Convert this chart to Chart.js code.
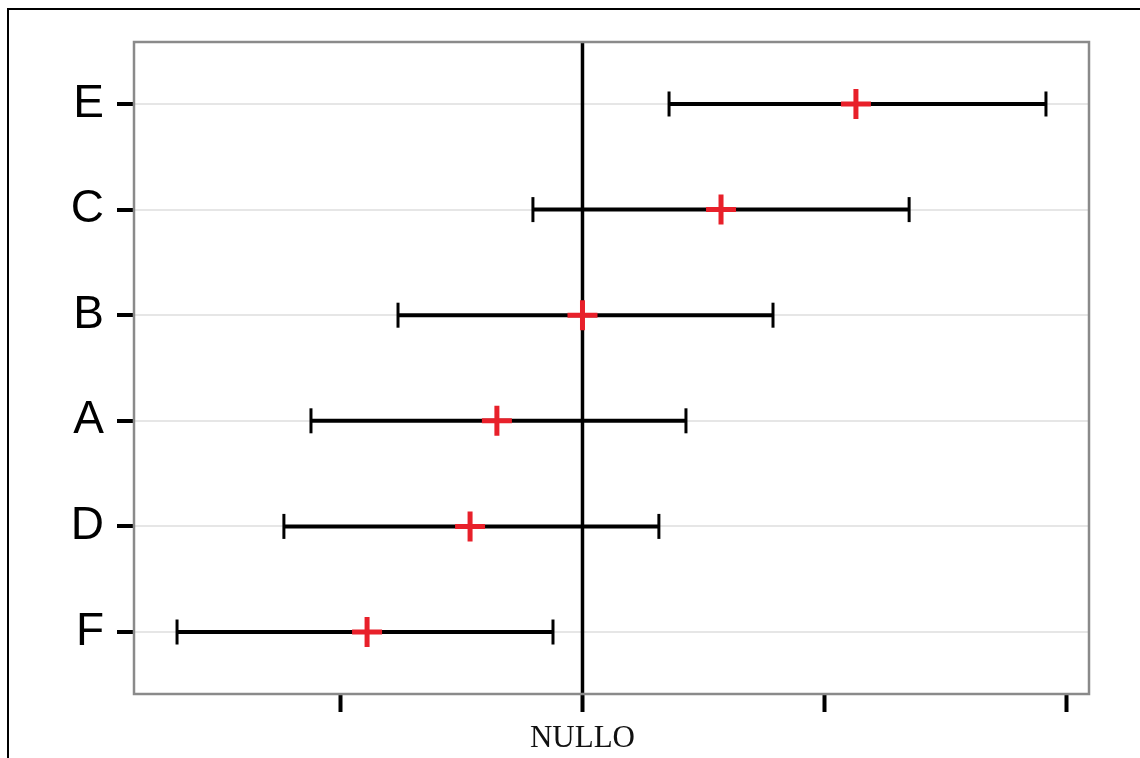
<!DOCTYPE html>
<html>
<head>
  <meta charset="utf-8">
  <title>Forest plot</title>
  <style>
    body { margin: 0; background: #ffffff; }
    canvas { display: block; }
  </style>
  <script src="https://cdn.jsdelivr.net/npm/chart.js@4.4.1/dist/chart.umd.min.js"></script>
</head>
<body>
  <canvas id="graph" width="1140" height="758"></canvas>
  <script>
    // data (top to bottom)
    const categories = ['E', 'C', 'B', 'A', 'D', 'F'];
    const estimates = [1.131, 0.573, 0.00, -0.354, -0.465, -0.891];
    const lower = [0.358, -0.205, -0.763, -1.123, -1.235, -1.677];
    const upper = [1.917, 1.351, 0.788, 0.428, 0.316, -0.122];
    const xTicks = [-1, 0, 1, 2];
    const xTickLabels = ['', 'NULLO', '', ''];

    function yPos(i) { return categories.length - i; }

    var datasets = [];
    for (var i = 0; i < categories.length; i++) {
      datasets.push({
        data: [{x: lower[i], y: yPos(i)}, {x: upper[i], y: yPos(i)}],
        showLine: true,
        borderColor: '#000000',
        borderWidth: 4,
        pointStyle: 'line',
        rotation: 90,
        pointRadius: 12.5,
        pointBorderWidth: 3,
        pointBorderColor: '#000000',
        order: 2
      });
    }
    datasets.push({
      data: estimates.map(function (v, i) { return {x: v, y: yPos(i)}; }),
      showLine: false,
      pointStyle: 'cross',
      pointRadius: 15,
      pointBorderWidth: 5,
      pointBorderColor: '#e8202a',
      order: 1
    });

    var framePlugin = {
      id: 'frame',
      beforeDraw: function (chart) {
        var ctx = chart.ctx;
        ctx.save();
        ctx.fillStyle = '#ffffff';
        ctx.fillRect(0, 0, chart.width, chart.height);
        ctx.strokeStyle = '#000000';
        ctx.lineWidth = 2;
        ctx.beginPath();
        ctx.moveTo(8, 9);
        ctx.lineTo(chart.width, 9);
        ctx.moveTo(8, 8);
        ctx.lineTo(8, chart.height);
        ctx.stroke();
        ctx.restore();
      },
      beforeDatasetsDraw: function (chart) {
        var ctx = chart.ctx;
        var a = chart.chartArea;
        var x0 = chart.scales.x.getPixelForValue(0);
        ctx.save();
        ctx.strokeStyle = '#000000';
        ctx.lineWidth = 3.5;
        ctx.beginPath();
        ctx.moveTo(x0, a.top);
        ctx.lineTo(x0, a.bottom);
        ctx.stroke();
        ctx.restore();
      },
      afterDraw: function (chart) {
        var ctx = chart.ctx;
        var a = chart.chartArea;
        ctx.save();
        ctx.strokeStyle = '#8a8a8a';
        ctx.lineWidth = 2.5;
        ctx.strokeRect(a.left, a.top, a.right - a.left, a.bottom - a.top);
        ctx.restore();
      }
    };

    new Chart(document.getElementById('graph').getContext('2d'), {
      type: 'scatter',
      data: { datasets: datasets },
      options: {
        responsive: false,
        devicePixelRatio: 1,
        animation: false,
        layout: { padding: { left: 0, top: 42, right: 51, bottom: 0 } },
        plugins: { legend: { display: false }, tooltip: { enabled: false } },
        scales: {
          x: {
            type: 'linear',
            min: -1.855,
            max: 2.095,
            afterBuildTicks: function (scale) {
              scale.ticks = xTicks.map(function (v) { return {value: v}; });
            },
            afterFit: function (scale) { scale.height = 64; },
            grid: {
              drawOnChartArea: false,
              tickLength: 18,
              tickColor: '#000000',
              tickWidth: 4
            },
            border: { display: false },
            ticks: {
              autoSkip: false,
              maxRotation: 0,
              padding: 8,
              color: '#111111',
              font: { family: '"Liberation Serif", serif', size: 31 },
              callback: function (value) {
                var k = xTicks.indexOf(value);
                return k >= 0 ? xTickLabels[k] : '';
              }
            }
          },
          y: {
            type: 'linear',
            min: 0.413,
            max: 6.587,
            afterBuildTicks: function (scale) {
              scale.ticks = categories.map(function (c, i) { return {value: yPos(i)}; });
            },
            afterFit: function (scale) { scale.width = 134; },
            grid: {
              color: '#e6e6e6',
              lineWidth: 2,
              tickLength: 17,
              tickColor: '#000000',
              tickWidth: 4
            },
            border: { display: false },
            ticks: {
              autoSkip: false,
              padding: 13,
              color: '#000000',
              font: { family: '"Liberation Sans", Arial, sans-serif', size: 46 },
              callback: function (value) {
                var i = categories.length - value;
                return categories[i] !== undefined ? categories[i] : '';
              }
            }
          }
        }
      },
      plugins: [framePlugin]
    });
  </script>
</body>
</html>
